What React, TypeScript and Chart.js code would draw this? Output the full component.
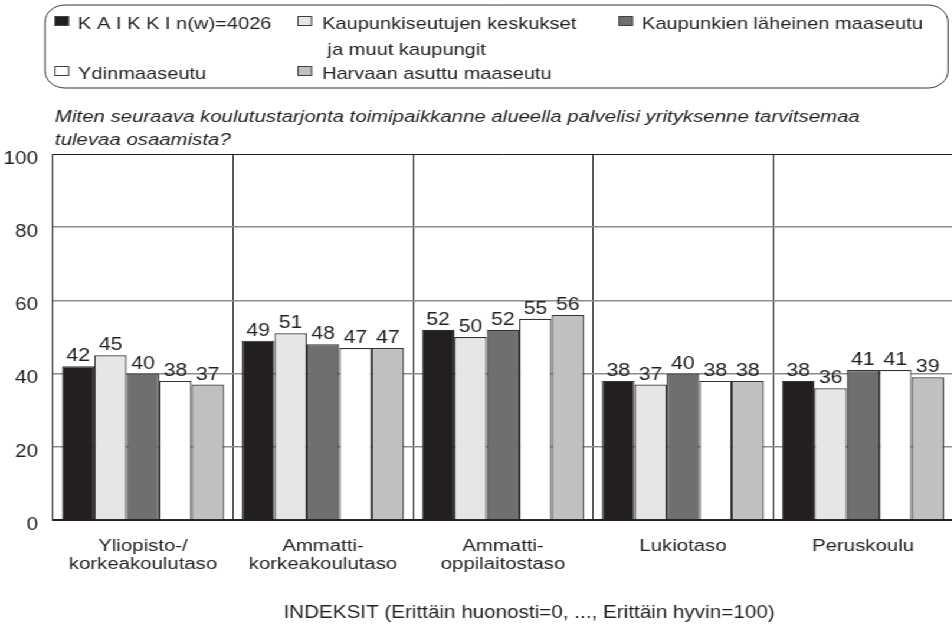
import React, { useEffect, useRef } from "react";
import { Chart, registerables } from "chart.js";

Chart.register(...registerables);

// ---- data ----
const CATEGORIES: string[][] = [
  ["Yliopisto-/", "korkeakoulutaso"],
  ["Ammatti-", "korkeakoulutaso"],
  ["Ammatti-", "oppilaitostaso"],
  ["Lukiotaso"],
  ["Peruskoulu"],
];
const SERIES_NAMES = [
  "K A I K K I n(w)=4026",
  "Kaupunkiseutujen keskukset\n ja muut kaupungit",
  "Kaupunkien läheinen maaseutu",
  "Ydinmaaseutu",
  "Harvaan asuttu maaseutu",
];
const KAIKKI = [42, 49, 52, 38, 38];
const KAUPUNKISEUDUT = [45, 51, 50, 37, 36];
const LAHEINEN_MAASEUTU = [40, 48, 52, 40, 41];
const YDINMAASEUTU = [38, 47, 55, 38, 41];
const HARVAAN_ASUTTU = [37, 47, 56, 38, 39];
const SERIES_VALUES = [KAIKKI, KAUPUNKISEUDUT, LAHEINEN_MAASEUTU, YDINMAASEUTU, HARVAAN_ASUTTU];
const SERIES_COLORS = ["#231f20", "#e6e6e6", "#6d6f70", "#ffffff", "#c0c0c0"];
const Y_MIN = 0;
const Y_MAX = 100;
const Y_STEP = 20;
const TITLE_LINES = [
  "Miten seuraava koulutustarjonta toimipaikkanne alueella palvelisi yrityksenne tarvitsemaa",
  "tulevaa osaamista?",
];
const X_TITLE = "INDEKSIT (Erittäin huonosti=0, ..., Erittäin hyvin=100)";

// ---- layout (horizontal stretch like the reference) ----
const SX = 1.18;
const CW = 812;
const CH = 625;
const px = (x: number) => x / SX;
const FONT = "'Liberation Sans', Arial, Helvetica, sans-serif";
const TXT = "#231f20";

const overlayPlugin = {
  id: "overlay",
  afterDatasetsDraw(chart: any) {
    const ctx = chart.ctx;
    ctx.save();
    ctx.fillStyle = TXT;
    ctx.font = `18px ${FONT}`;
    ctx.textAlign = "center";
    ctx.textBaseline = "alphabetic";
    chart.data.datasets.forEach((ds: any, di: number) => {
      const meta = chart.getDatasetMeta(di);
      meta.data.forEach((bar: any, i: number) => {
        ctx.fillText(String(ds.data[i]), bar.x, bar.y - 5);
      });
    });
    ctx.restore();
  },
  afterDraw(chart: any) {
    const ctx = chart.ctx;
    ctx.save();
    ctx.fillStyle = TXT;
    // title
    ctx.font = `italic 17.3px ${FONT}`;
    ctx.textAlign = "left";
    ctx.textBaseline = "alphabetic";
    ctx.fillText(TITLE_LINES[0], px(55), 122);
    ctx.fillText(TITLE_LINES[1], px(55), 145);
    // x axis title
    ctx.font = `17.5px ${FONT}`;
    ctx.textAlign = "center";
    ctx.fillText(X_TITLE, px(529), 618);

    // legend box
    const bx = px(45), by = 5, bw = px(948) - px(45), bh = 83;
    ctx.beginPath();
    (ctx as any).roundRect(bx, by, bw, bh, 17);
    ctx.strokeStyle = "#333333";
    ctx.lineWidth = 1;
    ctx.stroke();

    const items = [
      { sq: 55, tx: 78, y: 29 },
      { sq: 298, tx: 322, y: 29 },
      { sq: 619, tx: 642, y: 29 },
      { sq: 55, tx: 78, y: 79 },
      { sq: 298, tx: 322, y: 79 },
    ];
    ctx.font = `17px ${FONT}`;
    ctx.textAlign = "left";
    chart.data.datasets.forEach((ds: any, i: number) => {
      const it = items[i];
      const lines = String(ds.label).split("\n");
      ctx.fillStyle = ds.backgroundColor;
      ctx.fillRect(px(it.sq), it.y - 12.5, 11.5, 9);
      ctx.strokeStyle = "#404040";
      ctx.lineWidth = 1;
      ctx.strokeRect(px(it.sq), it.y - 12.5, 11.5, 9);
      ctx.fillStyle = TXT;
      lines.forEach((ln, li) => {
        ctx.fillText(ln, px(it.tx), it.y + li * 26);
      });
    });
    ctx.restore();
  },
};

export default function App() {
  const ref = useRef<HTMLCanvasElement | null>(null);
  useEffect(() => {
    if (!ref.current) return;
    const chart = new Chart(ref.current, {
      type: "bar",
      data: {
        labels: CATEGORIES,
        datasets: SERIES_NAMES.map((name, i) => ({
          label: name,
          data: SERIES_VALUES[i],
          backgroundColor: SERIES_COLORS[i],
          borderColor: "#333333",
          borderWidth: 1.2,
          categoryPercentage: 0.9,
          barPercentage: 1.0,
        })),
      },
      options: {
        animation: false,
        responsive: false,
        devicePixelRatio: 1,
        layout: { padding: { top: 154, right: CW - px(953), bottom: 0, left: 0 } },
        plugins: {
          legend: { display: false },
          title: { display: false },
          tooltip: { enabled: false },
        },
        scales: {
          x: {
            grid: { offset: true, color: TXT, lineWidth: 1, drawTicks: false },
            border: { display: true, color: TXT, width: 2 },
            ticks: {
              color: TXT,
              font: { family: FONT, size: 17.3, lineHeight: 1.0 },
              padding: 18,
              maxRotation: 0,
              autoSkip: false,
            },
            afterFit: (s: any) => {
              s.height = CH - 520;
            },
          },
          y: {
            min: Y_MIN,
            max: Y_MAX,
            ticks: {
              stepSize: Y_STEP,
              color: TXT,
              font: { family: FONT, size: 17.5 },
              padding: px(15),
              labelOffset: 5,
            },
            grid: {
              color: (c: any) => (c.tick && c.tick.value === Y_MAX ? TXT : "#8c8c8c"),
              lineWidth: (c: any) => (c.tick && c.tick.value === Y_MAX ? 1 : 1.6),
              drawTicks: false,
            },
            border: { display: true, color: TXT, width: 1 },
            afterFit: (s: any) => {
              s.width = px(53);
            },
          },
        },
      } as any,
      plugins: [overlayPlugin],
    });
    return () => chart.destroy();
  }, []);

  return (
    <div
      style={{
        position: "fixed",
        left: 0,
        top: 0,
        width: CW,
        height: CH,
        transform: `scaleX(${SX})`,
        transformOrigin: "0 0",
        background: "#ffffff",
      }}
    >
      <canvas ref={ref} width={CW} height={CH} />
    </div>
  );
}
